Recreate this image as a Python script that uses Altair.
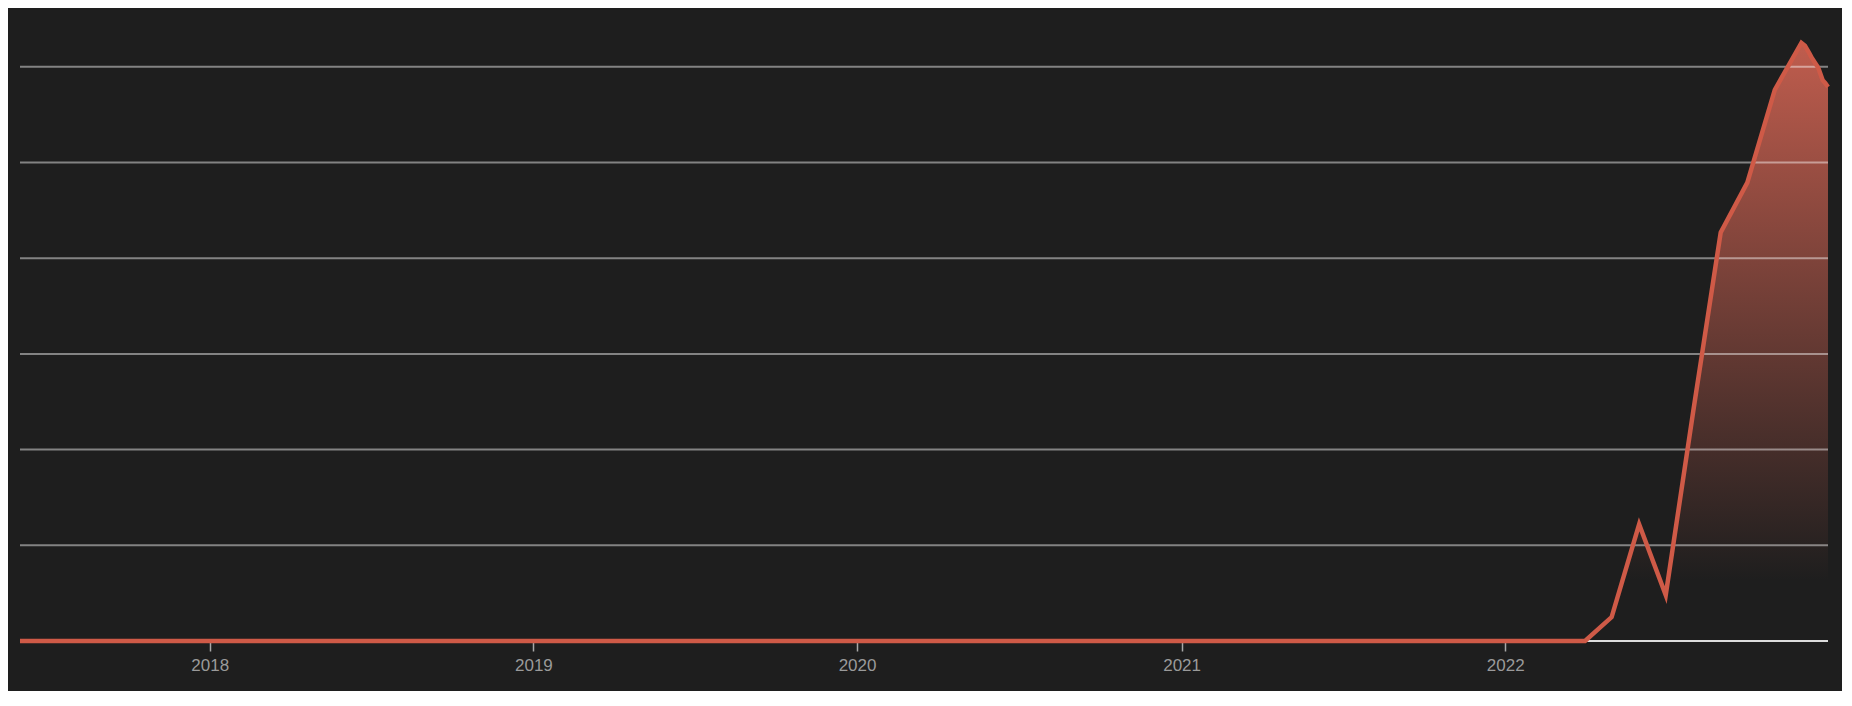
import altair as alt
import pandas as pd

# Data
dates = ["2017-06-01", "2022-04-01", "2022-05-01", "2022-06-01", "2022-07-01",
         "2022-08-01", "2022-09-01", "2022-10-01", "2022-11-01", "2022-12-01",
         "2022-12-05", "2022-12-10", "2022-12-13", "2022-12-20", "2022-12-25",
         "2022-12-28", "2022-12-31"]
values = [0, 0, 0.25, 1.22, 0.48,
          2.4, 4.27, 4.79, 5.76, 6.25,
          6.22, 6.14, 6.09, 5.99, 5.86,
          5.83, 5.79]
grid_values = [1, 2, 3, 4, 5, 6]
zero_value = [0]

df = pd.DataFrame({"date": dates, "value": values})
grid_df = pd.DataFrame({"v": grid_values})
zero_df = pd.DataFrame({"v": zero_value})

LINE = "#cf5a47"
yscale = alt.Scale(domain=[0, 6.5], nice=False, zero=True)
xscale = alt.Scale(nice=False)

base = alt.Chart(df)

xenc = alt.X(
    "date:T",
    scale=xscale,
    title=None,
    axis=alt.Axis(
        format="%Y",
        tickCount=alt.TickCount(interval="year", step=1),
        domain=False,
        grid=False,
        ticks=True,
        tickSize=10,
        tickColor="#a8a8a8",
        tickWidth=1.5,
        labelColor="#9a9a9a",
        labelFont="Liberation Sans",
        labelFontSize=17,
        labelPadding=6,
    ),
)

area = base.mark_area(
    line=False,
    color=alt.Gradient(
        gradient="linear",
        stops=[
            alt.GradientStop(color="rgba(200,96,80,0)", offset=0),
            alt.GradientStop(color="rgba(200,96,80,0)", offset=0.1),
            alt.GradientStop(color="rgba(200,96,80,0.95)", offset=1),
        ],
        x1=1, x2=1, y1=1, y2=0,
    ),
).encode(x=xenc, y=alt.Y("value:Q", scale=yscale, axis=None))

grid = alt.Chart(grid_df).mark_rule(
    color="rgba(255,255,255,0.45)", strokeWidth=2
).encode(y=alt.Y("v:Q", scale=yscale, axis=None))

zero = alt.Chart(zero_df).mark_rule(
    color="rgba(255,255,255,0.85)", strokeWidth=2
).encode(y=alt.Y("v:Q", scale=yscale, axis=None))

line = base.mark_line(color=LINE, strokeWidth=4.5).encode(
    x=xenc, y=alt.Y("value:Q", scale=yscale, axis=None)
)

chart = (
    alt.layer(area, grid, zero, line)
    .properties(
        width=1808,
        height=622,
        padding={"left": 12, "right": 14, "top": 11, "bottom": 50},
        autosize=alt.AutoSizeParams(type="none"),
        background="#1e1e1e",
    )
    .configure_view(strokeWidth=0)
)

chart.save("out.html", embed_options={"renderer": "svg", "actions": False})
